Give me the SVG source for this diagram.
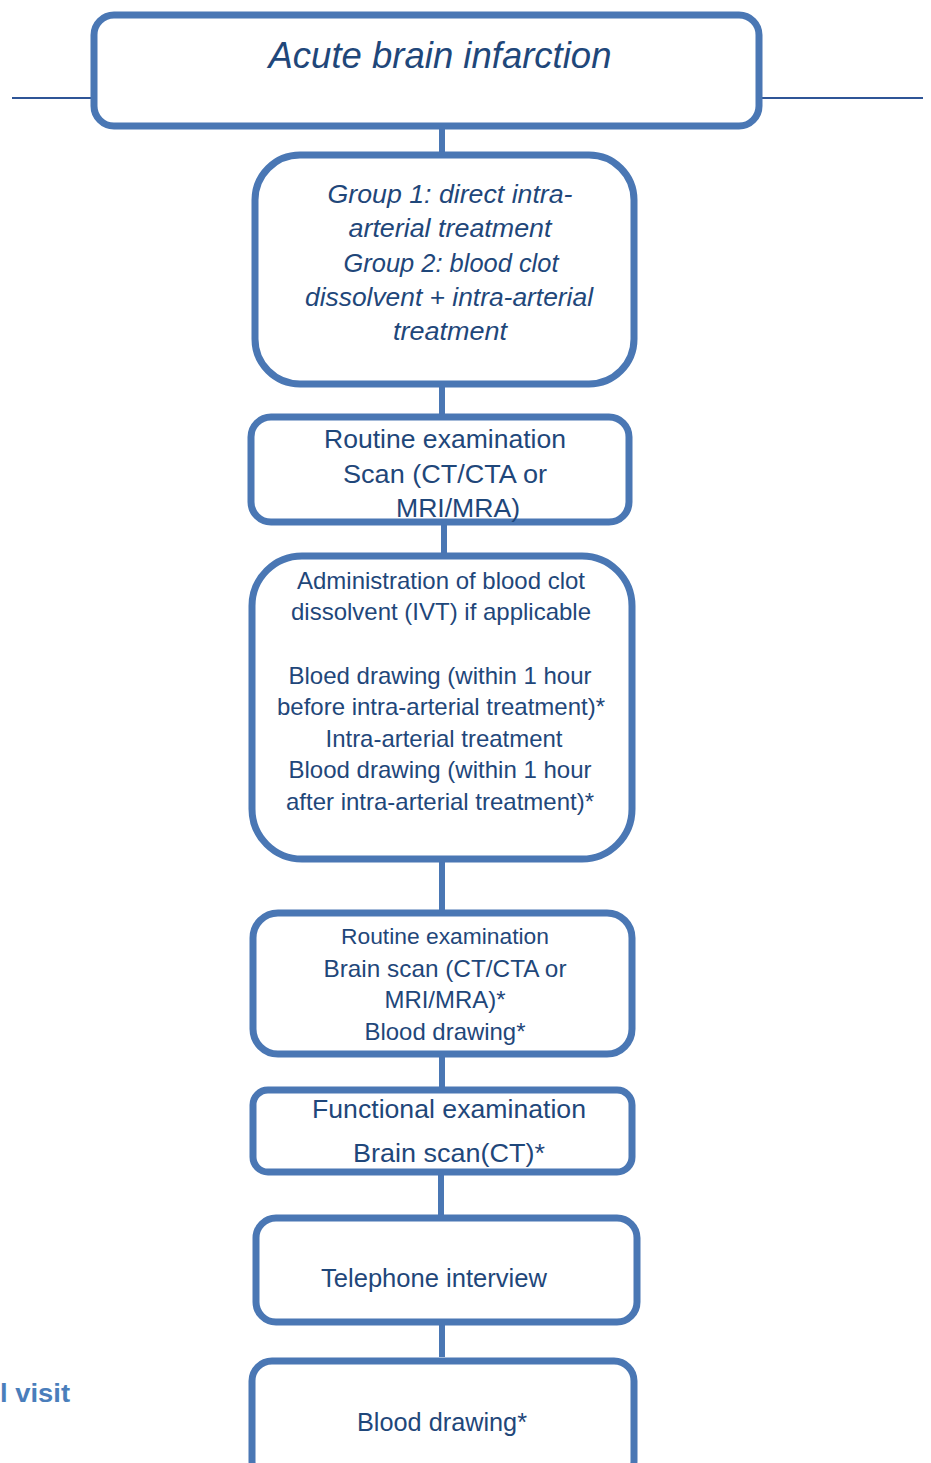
<svg xmlns="http://www.w3.org/2000/svg" width="931" height="1463" viewBox="0 0 931 1463">
<style>
.box{fill:#fff;stroke:#4a77b4;stroke-width:7}
.con{stroke:#4a77b4;stroke-width:6;fill:none}
.hl{stroke:#2f5597;stroke-width:2;fill:none}
text{font-family:"Liberation Sans",Arial,sans-serif;fill:#1f477a;text-anchor:middle}
.it{font-style:italic}
</style>
<rect width="931" height="1463" fill="#fff"/>
<g id="connectors">
<line class="hl" x1="12" y1="98" x2="92" y2="98"/>
<line class="hl" x1="762" y1="98" x2="923" y2="98"/>
<line class="con" x1="442" y1="120" x2="442" y2="156"/>
<line class="con" x1="442" y1="384" x2="442" y2="418"/>
<line class="con" x1="444" y1="522" x2="444" y2="558"/>
<line class="con" x1="442" y1="859" x2="442" y2="914"/>
<line class="con" x1="442" y1="1054" x2="442" y2="1091"/>
<line class="con" x1="441" y1="1172" x2="441" y2="1219"/>
<line class="con" x1="442" y1="1322" x2="442" y2="1357"/>
</g>
<g id="n1">
<rect class="box" x="94" y="15" width="665" height="111" rx="20"/>
<text class="it" x="440" y="68" font-size="37" textLength="343" lengthAdjust="spacingAndGlyphs">Acute brain infarction</text>
</g>
<g id="n2">
<rect class="box" x="255" y="155" width="379" height="229" rx="45"/>
<text class="it" x="450" y="203" font-size="26" textLength="245" lengthAdjust="spacingAndGlyphs">Group 1: direct intra-</text>
<text class="it" x="450" y="237" font-size="26" textLength="203" lengthAdjust="spacingAndGlyphs">arterial treatment</text>
<text class="it" x="451" y="272" font-size="26" textLength="215" lengthAdjust="spacingAndGlyphs">Group 2: blood clot</text>
<text class="it" x="449" y="306" font-size="26" textLength="288" lengthAdjust="spacingAndGlyphs">dissolvent + intra-arterial</text>
<text class="it" x="450" y="340" font-size="26" textLength="114" lengthAdjust="spacingAndGlyphs">treatment</text>
</g>
<g id="n3">
<rect class="box" x="251" y="417" width="378" height="105" rx="20"/>
<text x="445" y="448" font-size="26" textLength="242" lengthAdjust="spacingAndGlyphs">Routine examination</text>
<text x="445" y="483" font-size="26" textLength="204" lengthAdjust="spacingAndGlyphs">Scan (CT/CTA or</text>
<text x="458" y="517" font-size="26" textLength="124" lengthAdjust="spacingAndGlyphs">MRI/MRA)</text>
</g>
<g id="n4">
<rect class="box" x="252" y="556" width="380" height="303" rx="50"/>
<text x="441" y="589" font-size="24" textLength="288" lengthAdjust="spacingAndGlyphs">Administration of blood clot</text>
<text x="441" y="620" font-size="24" textLength="300" lengthAdjust="spacingAndGlyphs">dissolvent (IVT) if applicable</text>
<text x="440" y="684" font-size="24" textLength="303" lengthAdjust="spacingAndGlyphs">Bloed drawing (within 1 hour</text>
<text x="441" y="715" font-size="24" textLength="328" lengthAdjust="spacingAndGlyphs">before intra-arterial treatment)*</text>
<text x="444" y="747" font-size="24" textLength="237" lengthAdjust="spacingAndGlyphs">Intra-arterial treatment</text>
<text x="440" y="778" font-size="24" textLength="303" lengthAdjust="spacingAndGlyphs">Blood drawing (within 1 hour</text>
<text x="440" y="810" font-size="24" textLength="308" lengthAdjust="spacingAndGlyphs">after intra-arterial treatment)*</text>
</g>
<g id="n5">
<rect class="box" x="253" y="913" width="379" height="141" rx="25"/>
<text x="445" y="944" font-size="22" textLength="208" lengthAdjust="spacingAndGlyphs">Routine examination</text>
<text x="445" y="977" font-size="24" textLength="243" lengthAdjust="spacingAndGlyphs">Brain scan (CT/CTA or</text>
<text x="445" y="1008" font-size="24" textLength="121" lengthAdjust="spacingAndGlyphs">MRI/MRA)*</text>
<text x="445" y="1040" font-size="24" textLength="161" lengthAdjust="spacingAndGlyphs">Blood drawing*</text>
</g>
<g id="n6">
<rect class="box" x="253" y="1090" width="379" height="82" rx="15"/>
<text x="449" y="1118" font-size="26" textLength="274" lengthAdjust="spacingAndGlyphs">Functional examination</text>
<text x="449" y="1162" font-size="26" textLength="192" lengthAdjust="spacingAndGlyphs">Brain scan(CT)*</text>
</g>
<g id="n7">
<rect class="box" x="256" y="1218" width="381" height="104" rx="20"/>
<text x="434" y="1287" font-size="25" textLength="226" lengthAdjust="spacingAndGlyphs">Telephone interview</text>
</g>
<g id="n8">
<rect class="box" x="252" y="1361" width="382" height="120" rx="20"/>
<text x="442" y="1431" font-size="25" textLength="170" lengthAdjust="spacingAndGlyphs">Blood drawing*</text>
</g>
<text x="0" y="1402" font-size="25" font-weight="bold" style="fill:#4a7ebb;text-anchor:start" textLength="70" lengthAdjust="spacingAndGlyphs">l visit</text>
</svg>
